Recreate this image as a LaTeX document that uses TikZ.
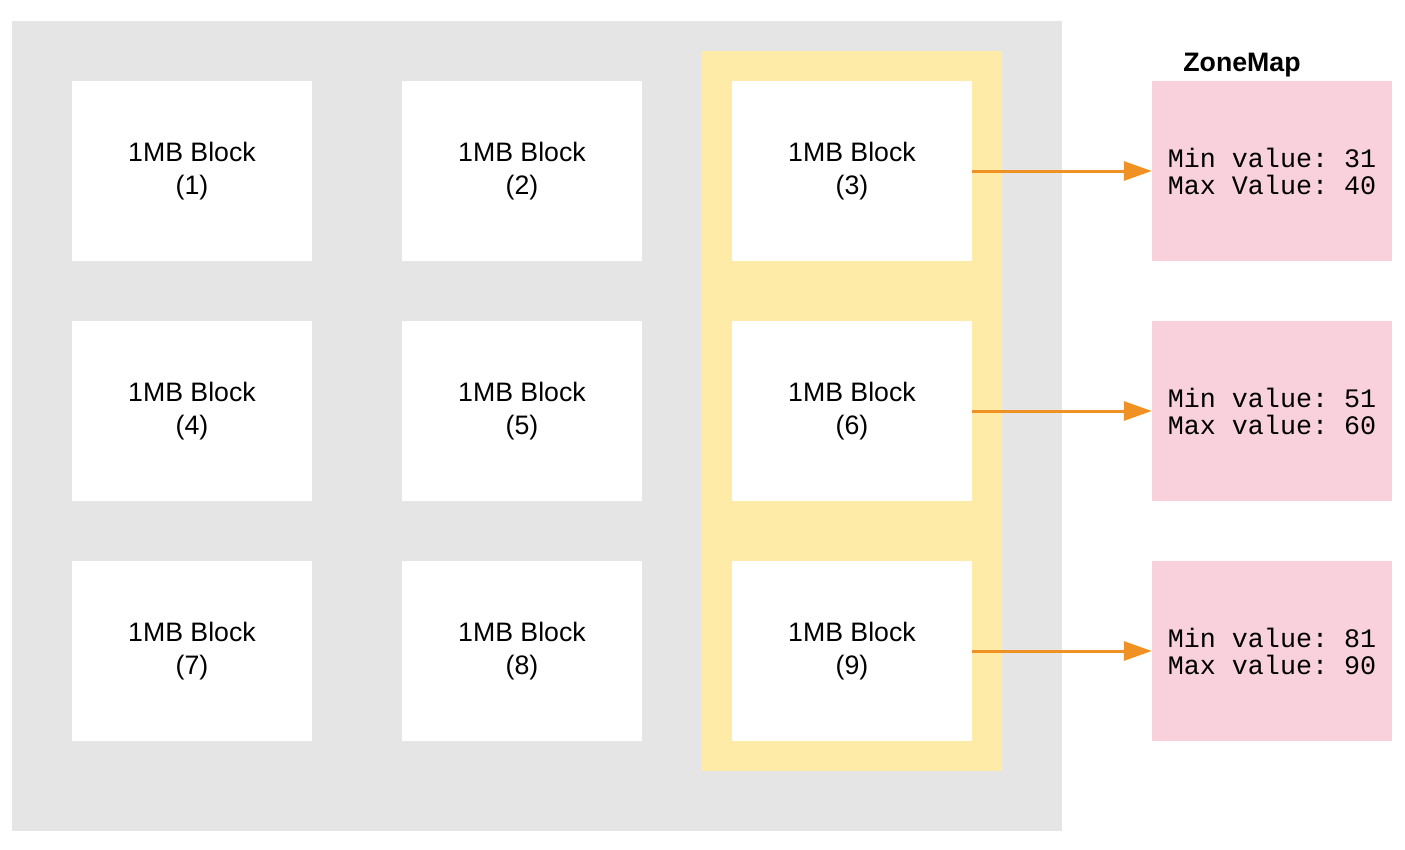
\documentclass[tikz,border=0pt]{standalone}
\usepackage{fontspec}
\setmainfont{Liberation Sans}
\setmonofont{Liberation Mono}
\usetikzlibrary{arrows.meta}
\definecolor{bggray}{HTML}{E5E5E5}
\definecolor{hiyellow}{HTML}{FFEBA8}
\definecolor{zpink}{HTML}{F9D1DC}
\definecolor{arrorange}{HTML}{F09123}
\begin{document}
\begin{tikzpicture}[x=1pt,y=-1pt,
  blockbox/.style={fill=white,minimum width=240pt,minimum height=180pt,inner sep=0pt,align=center,
    font=\fontsize{26.7}{33}\selectfont},
  zonebox/.style={fill=zpink,minimum width=240pt,minimum height=180pt,inner sep=0pt,
    align=left,font=\ttfamily\fontsize{26.7}{27}\selectfont},
  zarrow/.style={draw=arrorange,line width=3pt,-{Triangle[length=28pt,width=19pt]}}]
\useasboundingbox (0,0) rectangle (1405,849);
\fill[white] (0,0) rectangle (1405,849);
\node[fill=bggray,minimum width=1050pt,minimum height=810pt,inner sep=0pt] (bg) at (537,426) {};
\node[fill=hiyellow,minimum width=300pt,minimum height=720pt,inner sep=0pt] (hl) at (852,411) {};
\node[blockbox] (b1) at (192,171) {1MB Block\\(1)};
\node[blockbox] (b2) at (522,171) {1MB Block\\(2)};
\node[blockbox] (b3) at (852,171) {1MB Block\\(3)};
\node[blockbox] (b4) at (192,411) {1MB Block\\(4)};
\node[blockbox] (b5) at (522,411) {1MB Block\\(5)};
\node[blockbox] (b6) at (852,411) {1MB Block\\(6)};
\node[blockbox] (b7) at (192,651) {1MB Block\\(7)};
\node[blockbox] (b8) at (522,651) {1MB Block\\(8)};
\node[blockbox] (b9) at (852,651) {1MB Block\\(9)};
\node[zonebox] (z1) at (1272,171) {Min value: 31\\Max Value: 40};
\node[zonebox] (z2) at (1272,411) {Min value: 51\\Max value: 60};
\node[zonebox] (z3) at (1272,651) {Min value: 81\\Max value: 90};
\node[font=\bfseries\fontsize{26.7}{30}\selectfont,anchor=south] (zt) at (1242,81) {ZoneMap};
\draw[zarrow] (b3.east) -- (z1.west);
\draw[zarrow] (b6.east) -- (z2.west);
\draw[zarrow] (b9.east) -- (z3.west);
\end{tikzpicture}
\end{document}
